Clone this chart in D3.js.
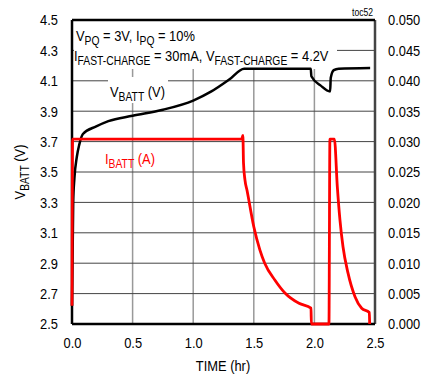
<!DOCTYPE html>
<html>
<head>
<meta charset="utf-8">
<script src="https://cdn.jsdelivr.net/npm/d3@7"></script>
<style>
body { margin: 0; background: #fff; }
text { font-family: "Liberation Sans", Arial, sans-serif; }
</style>
</head>
<body>
<svg id="chart"></svg>
<script>
// time (hr), battery voltage (V)
var vbatt = [
  [0.0, 2.62], [0.01, 3.3], [0.02, 3.46], [0.04, 3.6], [0.06, 3.68], [0.09, 3.75],
  [0.2, 3.8], [0.3, 3.835], [0.5, 3.87], [0.75, 3.91], [1.0, 3.97], [1.15, 4.03],
  [1.3, 4.11], [1.42, 4.18], [1.97, 4.18], [1.975, 4.13], [2.05, 4.07], [2.13, 4.03],
  [2.135, 4.12], [2.16, 4.17], [2.2, 4.18], [2.46, 4.185]
];
// time (hr), battery current (A)
var ibatt = [
  [0.0, 0.003], [0.005, 0.0304], [1.40, 0.0304], [1.41, 0.031], [1.415, 0.0265],
  [1.427, 0.0237], [1.444, 0.022], [1.5, 0.016], [1.55, 0.0122], [1.59, 0.010],
  [1.675, 0.0072], [1.757, 0.0051], [1.873, 0.0034], [1.972, 0.0026], [1.975, 0.0],
  [2.12, 0.0], [2.128, 0.0304], [2.165, 0.0304], [2.189, 0.0226], [2.211, 0.0171],
  [2.236, 0.0127], [2.277, 0.0084], [2.335, 0.0045], [2.39, 0.0026], [2.453, 0.0019],
  [2.456, 0.0]
];
var xTicks = [0, 0.5, 1.0, 1.5, 2.0, 2.5];
var yTicks = [2.5, 2.7, 2.9, 3.1, 3.3, 3.5, 3.7, 3.9, 4.1, 4.3, 4.5];
var y2Ticks = [0, 0.005, 0.01, 0.015, 0.02, 0.025, 0.03, 0.035, 0.04, 0.045, 0.05];

var W = 424, H = 379;
var margin = {left: 72, right: 49, top: 20, bottom: 55};
var width = W - margin.left - margin.right;
var height = H - margin.top - margin.bottom;
var squeeze = 0.86; // the chart font is a narrow sans

var svg = d3.select("#chart").attr("width", W).attr("height", H);
var g = svg.append("g")
    .attr("transform", "translate(" + margin.left + "," + margin.top + ")");

var x = d3.scaleLinear().domain([0, 2.5]).range([0, width]);
var y = d3.scaleLinear().domain([2.5, 4.5]).range([height, 0]);
var y2 = d3.scaleLinear().domain([0, 0.05]).range([height, 0]);

// grid
g.selectAll(".vgrid").data(xTicks.slice(1, -1)).enter().append("line")
    .attr("x1", d => x(d)).attr("x2", d => x(d))
    .attr("y1", 0).attr("y2", height)
    .attr("stroke", "#999").attr("stroke-width", 1.5);
g.selectAll(".hgrid").data(yTicks.slice(1, -1)).enter().append("line")
    .attr("x1", 0).attr("x2", width)
    .attr("y1", d => y(d)).attr("y2", d => y(d))
    .attr("stroke", "#444").attr("stroke-width", 1);

// white boxes behind annotations
g.append("rect").attr("x", 2).attr("y", 1).attr("width", 263).attr("height", 48).attr("fill", "#fff");
g.append("rect").attr("x", 36).attr("y", 57).attr("width", 60).attr("height", 26).attr("fill", "#fff");

// frame
g.append("line").attr("x1", width).attr("x2", width).attr("y1", 0).attr("y2", height)
    .attr("stroke", "#444").attr("stroke-width", 2.5);
g.append("line").attr("x1", 0).attr("x2", width).attr("y1", 0).attr("y2", 0)
    .attr("stroke", "#000").attr("stroke-width", 2.5);
g.append("line").attr("x1", 0).attr("x2", 0).attr("y1", 0).attr("y2", height)
    .attr("stroke", "#000").attr("stroke-width", 2.5);
g.append("line").attr("x1", 0).attr("x2", width).attr("y1", height).attr("y2", height)
    .attr("stroke", "#000").attr("stroke-width", 2.5);

// axes labels (no tick marks)
var axL = g.append("g").call(d3.axisLeft(y).tickValues(yTicks).tickFormat(d3.format(".1f")).tickSize(0).tickPadding(14));
var axR = g.append("g").attr("transform", "translate(" + width + ",0)")
    .call(d3.axisRight(y2).tickValues(y2Ticks).tickFormat(d3.format(".3f")).tickSize(0).tickPadding(13));
var axB = g.append("g").attr("transform", "translate(0," + height + ")")
    .call(d3.axisBottom(x).tickValues(xTicks).tickFormat(d3.format(".1f")).tickSize(0).tickPadding(13));
[axL, axR, axB].forEach(function(a) {
    a.select(".domain").remove();
    a.selectAll("text").attr("font-size", 15).attr("fill", "#000")
        .attr("font-family", "'Liberation Sans', Arial, sans-serif")
        .each(function() {
            var t = d3.select(this), tx = +t.attr("x") || 0;
            t.attr("x", 0).attr("transform", "translate(" + tx + ",0) scale(" + squeeze + ",1)");
        });
});

// curves
var line = d3.line().x(d => x(d[0])).curve(d3.curveMonotoneX);
g.append("path").datum(vbatt)
    .attr("d", line.y(d => y(d[1])))
    .attr("fill", "none").attr("stroke", "#000").attr("stroke-width", 2.5)
    .attr("stroke-linejoin", "round");
g.append("path").datum(ibatt)
    .attr("d", line.y(d => y2(d[1])))
    .attr("fill", "none").attr("stroke", "#f00").attr("stroke-width", 2.8)
    .attr("stroke-linejoin", "round");

// text helper with subscripts, squeezed horizontally
function label(parent, px, py, parts, color, rot) {
    var t = parent.append("g")
        .attr("transform", "translate(" + px + "," + py + ")" + (rot ? " rotate(" + rot + ")" : "") + " scale(" + squeeze + ",1)")
        .append("text").attr("font-size", 15).attr("fill", color || "#000");
    parts.forEach(function(p) {
        var s = t.append("tspan").text(p[0]);
        if (p[1]) s.attr("font-size", 12).attr("dy", 4);
        else if (p[2]) s.attr("dy", -4);
    });
    return t;
}
label(g, 4, 21, [["V"], ["PQ", 1], [" = 3V, I", 0, 1], ["PQ", 1], [" = 10%", 0, 1]]);
label(g, 2, 41, [["I"], ["FAST-CHARGE", 1], [" = 30mA, V", 0, 1], ["FAST-CHARGE", 1], [" = 4.2V", 0, 1]]);
label(g, 38, 77, [["V"], ["BATT", 1], [" (V)", 0, 1]]);
label(g, 33, 144, [["I"], ["BATT", 1], [" (A)", 0, 1]], "#f00");

label(svg, 373, 16, [["toc52"]]).attr("font-size", 10).attr("text-anchor", "end");
label(svg, 223, 371, [["TIME (hr)"]]).attr("text-anchor", "middle");
label(svg, 25, margin.top + height / 2, [["V"], ["BATT", 1], [" (V)", 0, 1]], "#000", -90)
    .attr("text-anchor", "middle");
</script>
</body>
</html>
